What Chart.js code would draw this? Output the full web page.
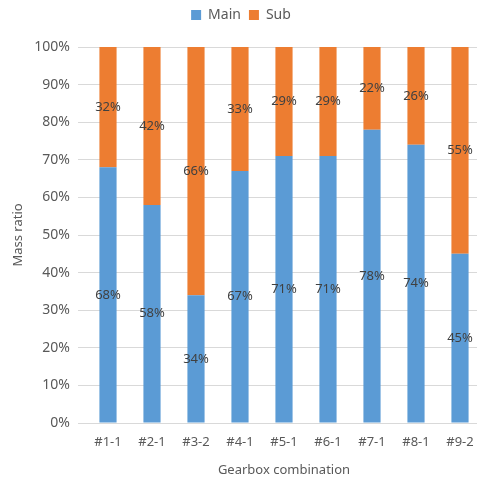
<!DOCTYPE html>
<html>
<head>
<meta charset="utf-8">
<script src="https://cdn.jsdelivr.net/npm/chart.js@4/dist/chart.umd.min.js"></script>
<style>
html,body{margin:0;padding:0;background:#fff;overflow:hidden;}
#wrap{width:477px;height:482px;overflow:hidden;}
</style>
</head>
<body>
<div id="wrap"><canvas id="graph" width="482" height="482"></canvas></div>
<script>

const categories=["#1-1","#2-1","#3-2","#4-1","#5-1","#6-1","#7-1","#8-1","#9-2"];
const mainValues=[68,58,34,67,71,71,78,74,45];
const subValues=[32,42,66,33,29,29,22,26,55];

const fontFamily="'Noto Sans', 'Open Sans', sans-serif";

// draws the percentage in the middle of each segment
const segmentLabels={
id:"segmentLabels",
afterDatasetsDraw(chart){
const ctx=chart.ctx;
ctx.save();
ctx.font="13px "+fontFamily;
ctx.fillStyle="#404040";
ctx.textAlign="center";
ctx.textBaseline="middle";
chart.data.datasets.forEach((ds,i)=>{
const meta=chart.getDatasetMeta(i);
meta.data.forEach((el,j)=>{
ctx.fillText(ds.data[j]+"%",el.x,(el.y+el.base)/2);
});
});
ctx.restore();
}
};

// extra room under the legend
const legendGap={
id:"legendGap",
beforeInit(chart){
const fit=chart.legend.fit;
chart.legend.fit=function(){
fit.bind(chart.legend)();
this.height+=15;
};
}
};

const ctx=document.getElementById("graph");

new Chart(ctx,{
type:"bar",
data:{
labels:categories,
datasets:[
{
label:"Main",
data:mainValues,
backgroundColor:"#5B9BD5",
barPercentage:0.39,
categoryPercentage:1
},
{
label:"Sub",
data:subValues,
backgroundColor:"#ED7D31",
barPercentage:0.39,
categoryPercentage:1
}
]
},
options:{
responsive:false,
animation:false,
layout:{padding:{left:0,right:0,top:0,bottom:0}},
plugins:{
legend:{
position:"top",
labels:{
boxWidth:10,
boxHeight:10,
color:"#595959",
font:{family:fontFamily,size:14},
padding:8
}
},
tooltip:{enabled:false}
},
scales:{
x:{
stacked:true,
grid:{display:false},
border:{color:"#D9D9D9"},
ticks:{color:"#595959",font:{family:fontFamily,size:13},maxRotation:0},
title:{display:true,text:"Gearbox combination",color:"#595959",font:{family:fontFamily,size:13}},
afterFit(scale){scale.height=59;}
},
y:{
stacked:true,
min:0,
max:100,
grid:{color:"#D9D9D9"},
border:{display:false},
ticks:{stepSize:10,color:"#595959",font:{family:fontFamily,size:14},padding:8,callback:v=>v+"%"},
title:{display:true,text:"Mass ratio",color:"#595959",font:{family:fontFamily,size:13},padding:{top:10,bottom:4}},
afterFit(scale){scale.width=86;}
}
}
},
plugins:[segmentLabels,legendGap]
});

</script>
</body>
</html>
